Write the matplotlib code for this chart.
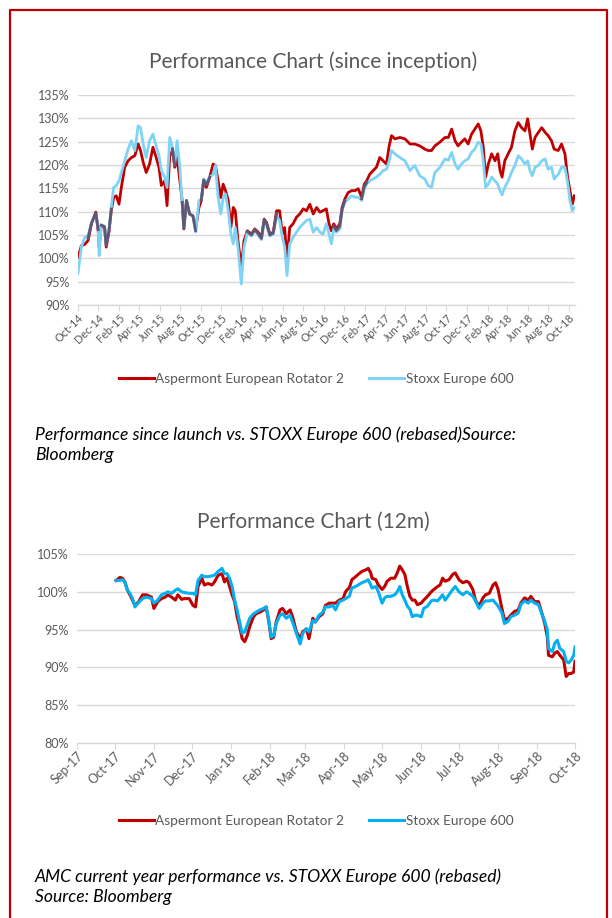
import numpy as np
import pandas as pd
import matplotlib
matplotlib.use("Agg")
import matplotlib.pyplot as plt
import matplotlib.dates as mdates
from matplotlib.lines import Line2D
from matplotlib.ticker import FuncFormatter, MultipleLocator

plt.rcParams['font.family'] = ['Lato', 'DejaVu Sans']

# ---- data: since inception (rebased, %) ----
top_dates = [
    "2014-10-01", "2014-10-11", "2014-10-21", "2014-10-31", "2014-11-10", "2014-11-23", "2014-11-30",
    "2014-12-03", "2014-12-09", "2014-12-19", "2014-12-24", "2015-01-01", "2015-01-08", "2015-01-15",
    "2015-01-23", "2015-01-31", "2015-02-07", "2015-02-17", "2015-02-27", "2015-03-09", "2015-03-19",
    "2015-03-29", "2015-04-05", "2015-04-13", "2015-04-22", "2015-05-02", "2015-05-12", "2015-05-20",
    "2015-05-30", "2015-06-06", "2015-06-16", "2015-06-23", "2015-07-01", "2015-07-09", "2015-07-16",
    "2015-07-23", "2015-07-31", "2015-08-07", "2015-08-12", "2015-08-20", "2015-08-29", "2015-09-08",
    "2015-09-16", "2015-09-26", "2015-10-03", "2015-10-10", "2015-10-18", "2015-10-28", "2015-11-07",
    "2015-11-14", "2015-11-22", "2015-11-30", "2015-12-07", "2015-12-14", "2015-12-22", "2015-12-30",
    "2016-01-06", "2016-01-12", "2016-01-20", "2016-01-30", "2016-02-07", "2016-02-17", "2016-02-29",
    "2016-03-10", "2016-03-20", "2016-03-30", "2016-04-07", "2016-04-14", "2016-04-24", "2016-05-04",
    "2016-05-14", "2016-05-23", "2016-05-31", "2016-06-07", "2016-06-14", "2016-06-22", "2016-07-02",
    "2016-07-12", "2016-07-22", "2016-08-01", "2016-08-11", "2016-08-21", "2016-08-31", "2016-09-10",
    "2016-09-20", "2016-09-29", "2016-10-09", "2016-10-17", "2016-10-24", "2016-10-31", "2016-11-08",
    "2016-11-18", "2016-11-25", "2016-12-03", "2016-12-13", "2016-12-23", "2017-01-02", "2017-01-12",
    "2017-01-22", "2017-01-30", "2017-02-06", "2017-02-15", "2017-02-25", "2017-03-07", "2017-03-17",
    "2017-03-27", "2017-04-06", "2017-04-14", "2017-04-21", "2017-05-01", "2017-05-16", "2017-05-31",
    "2017-06-15", "2017-06-29", "2017-07-14", "2017-07-29", "2017-08-08", "2017-08-18", "2017-08-28",
    "2017-09-12", "2017-09-27", "2017-10-07", "2017-10-17", "2017-10-27", "2017-11-05", "2017-11-15",
    "2017-11-25", "2017-12-05", "2017-12-15", "2017-12-25", "2018-01-04", "2018-01-12", "2018-01-19",
    "2018-01-26", "2018-02-03", "2018-02-13", "2018-02-23", "2018-03-03", "2018-03-10", "2018-03-16",
    "2018-03-24", "2018-04-03", "2018-04-13", "2018-04-23", "2018-05-03", "2018-05-13", "2018-05-23",
    "2018-05-31", "2018-06-07", "2018-06-14", "2018-06-22", "2018-07-02", "2018-07-12", "2018-07-22",
    "2018-07-31", "2018-08-10", "2018-08-18", "2018-08-30", "2018-09-09", "2018-09-19", "2018-09-27",
    "2018-10-04", "2018-10-11", "2018-10-17",
]
top_fund = [
    100.2, 102.7, 103.0, 103.8, 107.4, 109.9, 106.0, 102.4, 107.0, 106.6, 102.4, 105.6, 110.2, 113.0,
    113.4, 111.6, 115.2, 119.5, 120.9, 121.6, 122.0, 124.5, 123.1, 120.6, 118.4, 120.2, 123.8, 122.0,
    119.5, 115.6, 116.6, 111.3, 122.0, 123.1, 119.5, 121.6, 116.6, 112.4, 106.3, 112.4, 109.5, 109.1,
    106.3, 110.9, 112.4, 116.6, 115.2, 117.4, 120.2, 119.9, 116.6, 113.0, 115.9, 114.5, 112.4, 106.6,
    110.9, 110.2, 103.8, 98.1, 103.8, 105.9, 105.2, 106.3, 105.6, 104.5, 108.4, 107.7, 105.2, 105.6,
    110.2, 110.2, 105.2, 106.6, 99.5, 106.6, 107.4, 108.8, 109.5, 110.6, 110.2, 111.6, 109.5, 110.9,
    109.9, 110.2, 110.6, 107.4, 105.9, 107.4, 106.3, 107.4, 110.9, 112.7, 114.1, 114.5, 114.5, 114.9,
    113.1, 115.9, 116.6, 118.0, 118.8, 119.5, 121.6, 120.9, 120.2, 124.1, 126.3, 125.6, 125.9, 125.6,
    124.5, 124.5, 124.1, 123.4, 123.1, 123.1, 124.1, 124.9, 125.9, 125.9, 127.7, 125.2, 124.1, 124.9,
    125.6, 124.5, 126.6, 127.7, 128.8, 127.3, 123.8, 117.4, 120.2, 122.4, 120.9, 122.4, 118.8, 117.4,
    120.9, 122.4, 123.8, 127.3, 129.1, 128.0, 127.3, 129.9, 126.6, 123.4, 125.9, 127.0, 128.0, 127.0,
    126.3, 125.2, 123.4, 123.1, 124.5, 122.4, 117.4, 114.5, 111.6, 113.4,
]
top_index = [
    96.8, 102.4, 104.5, 104.9, 107.6, 109.5, 106.3, 100.6, 107.2, 106.9, 103.1, 106.0, 110.9, 115.2,
    115.6, 116.6, 118.4, 120.9, 123.4, 125.2, 123.1, 128.4, 128.0, 124.5, 121.6, 125.2, 126.6, 124.5,
    122.0, 118.8, 117.4, 115.2, 125.9, 123.8, 120.2, 125.2, 119.5, 111.6, 106.6, 112.4, 109.5, 109.1,
    105.6, 112.4, 112.7, 117.0, 116.2, 117.4, 118.0, 119.9, 113.0, 109.5, 113.0, 113.8, 110.2, 105.2,
    103.1, 106.6, 102.4, 94.5, 102.4, 105.6, 104.8, 106.0, 105.0, 104.0, 108.1, 107.2, 104.8, 105.2,
    109.1, 108.1, 104.5, 102.4, 96.3, 103.1, 104.5, 105.6, 106.6, 107.4, 108.1, 108.4, 105.6, 106.6,
    105.6, 105.2, 107.4, 105.2, 103.1, 106.3, 105.6, 106.3, 110.2, 112.0, 112.7, 113.4, 113.1, 113.1,
    112.4, 114.9, 115.9, 116.6, 117.0, 117.4, 118.0, 118.8, 119.1, 120.9, 123.1, 122.4, 121.6, 120.9,
    118.8, 119.9, 117.7, 117.0, 115.6, 115.2, 118.4, 119.5, 121.3, 121.0, 122.7, 120.2, 119.1, 120.2,
    120.9, 121.3, 122.7, 123.4, 124.9, 124.5, 120.9, 115.2, 115.9, 117.4, 116.6, 115.9, 114.5, 113.6,
    115.2, 116.6, 118.4, 119.9, 122.0, 121.3, 120.2, 120.9, 118.8, 117.7, 119.5, 119.9, 120.9, 121.3,
    119.1, 119.5, 117.0, 118.0, 119.5, 119.5, 116.3, 112.4, 110.2, 110.9,
]

# ---- data: last 12 months (rebased, %) ----
ytd_dates = [
    "2017-10-02", "2017-10-05", "2017-10-07", "2017-10-09", "2017-10-11", "2017-10-13", "2017-10-15",
    "2017-10-17", "2017-10-20", "2017-10-23", "2017-10-26", "2017-10-30", "2017-11-01", "2017-11-04",
    "2017-11-07", "2017-11-10", "2017-11-12", "2017-11-15", "2017-11-18", "2017-11-20", "2017-11-23",
    "2017-11-25", "2017-11-29", "2017-12-02", "2017-12-04", "2017-12-06", "2017-12-09", "2017-12-11",
    "2017-12-14", "2017-12-17", "2017-12-19", "2017-12-22", "2017-12-25", "2017-12-27", "2017-12-29",
    "2017-12-31", "2018-01-02", "2018-01-04", "2018-01-06", "2018-01-08", "2018-01-10", "2018-01-12",
    "2018-01-14", "2018-01-16", "2018-01-19", "2018-01-21", "2018-01-24", "2018-01-27", "2018-01-29",
    "2018-01-31", "2018-02-02", "2018-02-04", "2018-02-06", "2018-02-09", "2018-02-11", "2018-02-14",
    "2018-02-17", "2018-02-19", "2018-02-22", "2018-02-25", "2018-02-27", "2018-03-02", "2018-03-04",
    "2018-03-07", "2018-03-09", "2018-03-12", "2018-03-15", "2018-03-17", "2018-03-20", "2018-03-23",
    "2018-03-25", "2018-03-28", "2018-03-31", "2018-04-02", "2018-04-04", "2018-04-05", "2018-04-07",
    "2018-04-10", "2018-04-12", "2018-04-15", "2018-04-18", "2018-04-20", "2018-04-22", "2018-04-23",
    "2018-04-26", "2018-04-28", "2018-05-01", "2018-05-03", "2018-05-05", "2018-05-08", "2018-05-11",
    "2018-05-13", "2018-05-15", "2018-05-17", "2018-05-19", "2018-05-21", "2018-05-23", "2018-05-25",
    "2018-05-27", "2018-05-29", "2018-06-01", "2018-06-03", "2018-06-06", "2018-06-09", "2018-06-11",
    "2018-06-14", "2018-06-16", "2018-06-18", "2018-06-20", "2018-06-23", "2018-06-26", "2018-06-28",
    "2018-07-01", "2018-07-04", "2018-07-07", "2018-07-09", "2018-07-12", "2018-07-14", "2018-07-17",
    "2018-07-20", "2018-07-22", "2018-07-25", "2018-07-28", "2018-07-30", "2018-08-01", "2018-08-04",
    "2018-08-06", "2018-08-09", "2018-08-11", "2018-08-14", "2018-08-17", "2018-08-19", "2018-08-22",
    "2018-08-25", "2018-08-27", "2018-08-30", "2018-09-02", "2018-09-04", "2018-09-07", "2018-09-09",
    "2018-09-10", "2018-09-13", "2018-09-15", "2018-09-17", "2018-09-19", "2018-09-22", "2018-09-24",
    "2018-09-26", "2018-09-28", "2018-09-30", "2018-10-01",
]
ytd_fund = [
    101.5, 101.9, 101.8, 101.3, 100.2, 99.6, 98.9, 98.2, 98.7, 99.6, 99.6, 99.3, 97.8, 98.7,
    99.1, 99.3, 99.6, 99.3, 98.9, 99.6, 99.0, 99.1, 99.1, 98.2, 98.0, 100.7, 101.8, 100.9,
    101.1, 100.9, 101.3, 102.2, 102.4, 101.3, 101.8, 100.7, 99.6, 98.7, 96.7, 95.4, 93.8, 93.4,
    94.2, 95.4, 96.7, 97.1, 97.3, 97.6, 98.0, 96.2, 93.8, 94.0, 96.0, 97.6, 97.8, 97.1,
    97.6, 96.7, 94.7, 93.8, 94.7, 95.1, 93.8, 96.5, 96.0, 96.7, 97.1, 98.2, 98.5, 98.5,
    98.5, 98.9, 99.1, 100.0, 100.4, 100.5, 101.6, 102.0, 102.3, 102.7, 102.9, 103.1, 102.5, 101.8,
    101.6, 100.9, 100.3, 100.7, 101.4, 101.8, 101.8, 102.5, 103.4, 102.9, 102.3, 100.7, 99.4, 98.9,
    98.9, 98.3, 98.5, 98.9, 99.4, 100.0, 100.3, 100.7, 100.9, 101.8, 101.4, 101.6, 102.3, 102.5,
    101.6, 101.2, 101.4, 101.2, 100.3, 98.9, 98.1, 99.2, 99.6, 99.8, 100.9, 101.2, 100.3, 97.8,
    96.3, 96.5, 96.9, 97.4, 97.6, 98.5, 99.2, 98.9, 99.4, 98.7, 98.7, 97.6, 95.8, 94.1,
    91.6, 91.4, 91.9, 92.1, 91.6, 91.0, 88.8, 89.2, 89.2, 89.4, 90.8,
]
ytd_index = [
    101.5, 101.5, 101.6, 101.3, 100.2, 99.8, 99.1, 98.0, 98.6, 99.1, 99.3, 99.1, 98.5, 98.9,
    99.6, 99.8, 100.0, 99.8, 100.2, 100.4, 100.0, 99.9, 99.8, 99.8, 99.6, 101.5, 102.2, 102.0,
    102.0, 102.1, 102.2, 102.7, 103.1, 102.4, 102.4, 101.8, 100.7, 98.9, 97.6, 96.0, 94.5, 94.7,
    95.6, 96.5, 97.1, 97.3, 97.6, 97.8, 98.0, 96.4, 94.0, 94.2, 95.8, 96.9, 97.1, 96.5,
    96.9, 96.0, 94.5, 93.1, 94.5, 95.1, 94.7, 96.2, 96.0, 96.9, 97.3, 98.0, 98.0, 98.2,
    97.6, 98.7, 98.9, 99.1, 99.3, 99.4, 100.5, 100.7, 100.9, 101.2, 101.4, 101.6, 100.9, 100.5,
    100.7, 100.0, 98.5, 99.2, 99.4, 99.4, 99.6, 100.0, 100.7, 99.6, 98.9, 98.1, 97.7, 96.7,
    96.9, 96.9, 96.7, 97.8, 98.1, 98.8, 98.9, 98.8, 99.2, 99.6, 98.9, 99.6, 100.3, 100.7,
    100.0, 99.6, 100.0, 99.8, 99.4, 98.8, 97.8, 98.5, 98.8, 98.8, 98.9, 98.5, 98.1, 97.2,
    95.8, 96.1, 96.7, 96.9, 97.2, 98.3, 98.8, 98.5, 98.9, 98.5, 98.3, 97.4, 96.1, 95.0,
    92.5, 92.1, 93.2, 93.6, 92.5, 92.1, 90.8, 90.6, 91.0, 91.6, 92.7,
]

labels = ["Aspermont European Rotator 2", "Stoxx Europe 600"]
titles = ["Performance Chart (since inception)", "Performance Chart (12m)"]
captions = ["Performance since launch vs. STOXX Europe 600 (rebased)Source:\nBloomberg",
            "AMC current year performance vs. STOXX Europe 600 (rebased)\nSource: Bloomberg"]

RED = "#C00000"
GREY = "#595959"
GRID = "#D9D9D9"

W, H = 612, 918
fig = plt.figure(figsize=(W / 100, H / 100), dpi=100)


def fx(px):
    return px / W


def fy(px):
    return 1 - px / H


def style_axes(ax, lo, hi, xlo, xhi, months, fs):
    ax.set_ylim(lo, hi)
    ax.set_xlim(pd.Timestamp(xlo), pd.Timestamp(xhi))
    ax.yaxis.set_major_locator(MultipleLocator(5))
    ax.yaxis.set_major_formatter(FuncFormatter(lambda v, p: "%d%%" % round(v)))
    ax.grid(axis="y", color=GRID, lw=1.0)
    ax.set_axisbelow(True)
    for s in ["top", "right", "left"]:
        ax.spines[s].set_visible(False)
    ax.spines["bottom"].set_color(GRID)
    ax.spines["bottom"].set_linewidth(1.0)
    ax.tick_params(axis="y", length=0, labelsize=9, labelcolor=GREY, pad=6)
    ax.tick_params(axis="x", length=4, color=GRID, direction="out",
                   labelsize=fs, labelcolor=GREY, pad=1)
    ax.xaxis.set_major_locator(mdates.MonthLocator(bymonth=months, bymonthday=1))
    ax.xaxis.set_major_formatter(mdates.DateFormatter("%b-%y"))
    for t in ax.get_xticklabels():
        t.set_rotation(45)
        t.set_ha("right")
        t.set_rotation_mode("anchor")


# ---- top chart ----
ax1 = fig.add_axes([fx(78), fy(305), fx(575) - fx(78), fy(95) - fy(305)])
d1 = pd.to_datetime(top_dates)
f1 = np.array(top_fund)
i1 = np.array(top_index)
ax1.plot(d1, f1, color=RED, lw=2.0, solid_joinstyle="round")
ax1.plot(d1, i1, color="#7FD3F5", lw=2.0, solid_joinstyle="round")
both = np.where(np.abs(f1 - i1) <= 1.2, (f1 + i1) / 2, np.nan)
ax1.plot(d1, both, color="#5E5878", lw=2.0, solid_joinstyle="round")
style_axes(ax1, 90, 135, "2014-10-01", "2018-10-19", [2, 4, 6, 8, 10, 12], 7.8)

# ---- bottom chart ----
ax2 = fig.add_axes([fx(77), fy(743), fx(575) - fx(77), fy(554) - fy(743)])
d2 = pd.to_datetime(ytd_dates)
ax2.plot(d2, ytd_fund, color=RED, lw=2.2, solid_joinstyle="round")
ax2.plot(d2, ytd_index, color="#00B0F0", lw=2.2, solid_joinstyle="round")
style_axes(ax2, 80, 105, "2017-09-01", "2018-10-01", list(range(1, 13)), 9)

# titles, legends, captions
for ty, title in zip([62, 522], titles):
    fig.text(fx(313), fy(ty), title, ha="center", va="center", fontsize=15, color=GREY)

for ly, blue in zip([379, 821], ["#7FD3F5", "#00B0F0"]):
    handles = [Line2D([], [], color=RED, lw=2.2), Line2D([], [], color=blue, lw=2.2)]
    fig.legend(handles, labels, loc="center", bbox_to_anchor=(fx(316), fy(ly)), ncol=2,
               frameon=False, fontsize=9.8, labelcolor=GREY, handlelength=2.6,
               handletextpad=0.1, columnspacing=1.8)

for cy, cap in zip([445, 887], captions):
    fig.text(fx(35), fy(cy), cap, ha="left", va="center", fontsize=12.6,
             style="italic", color="black", linespacing=1.3)

# red frame round the page
fig.add_artist(Line2D([fx(10), fx(10), fx(607), fx(607)], [0, fy(10), fy(10), 0],
                      color=RED, lw=1.6, transform=fig.transFigure))

fig.savefig("out.png", dpi=100)
